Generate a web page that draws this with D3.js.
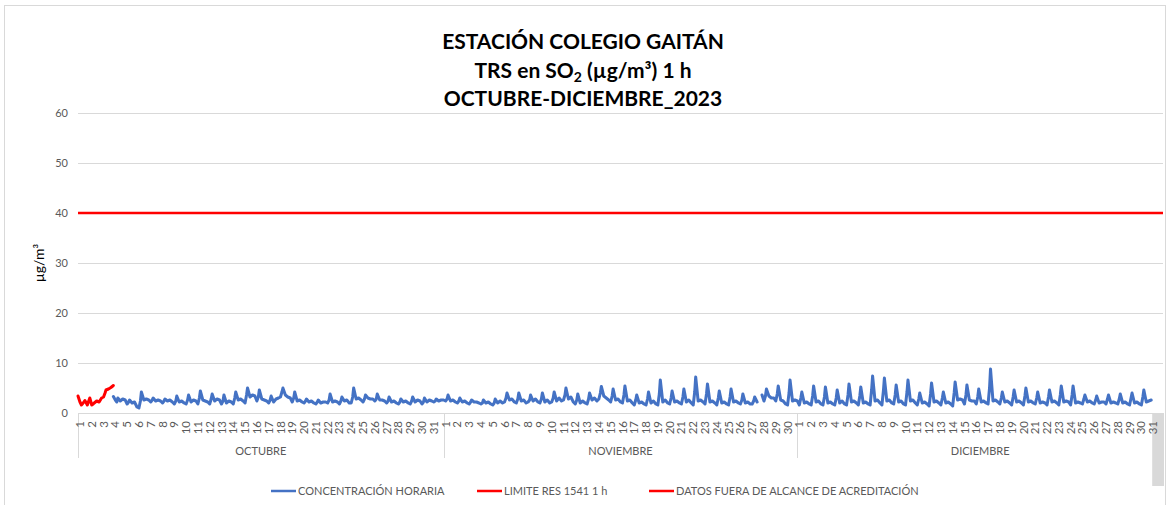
<!DOCTYPE html>
<html>
<head>
<meta charset="utf-8">
<script src="https://cdn.jsdelivr.net/npm/d3@7"></script>
<style>
  body { margin: 0; background: #fff; }
  svg text { font-family: Lato, "Open Sans", sans-serif; }
</style>
</head>
<body>
<svg></svg>
<script>
// categories: three months, one label per day, hourly values sampled 6 times a day
var MONTHS = ["OCTUBRE", "NOVIEMBRE", "DICIEMBRE"];
var MONTH_DAYS = [31, 30, 31];
var SAMPLE_HOURS = [0, 4, 7, 9, 14, 19];
var Y_TICKS = [0, 10, 20, 30, 40, 50, 60];
var LIMITE = 40;

// concentracion horaria (µg/m³), one row per day: values at SAMPLE_HOURS
var octubre = [
  null, null, null,
  [3.3, 2.6, 2.2, 3.0, 2.4, 2.8], [2.6, 1.8, 2.2, 2.6, 2.0, 2.2], [1.2, 1.0, 2.4, 4.2, 2.6, 2.8],
  [2.6, 2.2, 2.6, 3.0, 2.4, 2.6], [2.4, 2.0, 2.4, 2.8, 2.4, 2.6], [2.2, 1.8, 2.4, 3.4, 2.2, 2.4],
  [2.0, 1.8, 2.6, 3.6, 2.2, 2.6], [2.4, 1.8, 3.0, 4.4, 2.6, 2.4], [2.2, 1.8, 2.8, 3.8, 2.4, 2.8],
  [2.6, 1.8, 2.4, 3.6, 2.0, 2.4], [2.2, 1.8, 3.0, 4.2, 2.6, 2.8], [2.4, 2.0, 3.6, 5.0, 3.2, 3.6],
  [3.4, 2.4, 3.2, 4.6, 2.8, 2.6], [2.4, 2.0, 2.6, 3.4, 2.2, 2.8], [3.0, 3.2, 4.2, 5.0, 3.6, 3.2],
  [3.0, 2.2, 3.0, 4.2, 2.4, 2.6], [2.2, 2.0, 2.4, 2.8, 2.2, 2.4], [2.0, 1.8, 2.2, 2.6, 2.0, 2.2],
  [2.2, 2.0, 2.6, 3.8, 2.2, 2.4], [2.2, 1.8, 2.4, 3.2, 2.4, 2.6], [2.0, 2.0, 3.2, 5.0, 2.8, 3.0],
  [2.6, 2.2, 2.8, 3.6, 3.0, 2.8], [2.8, 2.4, 2.8, 3.8, 2.6, 2.6], [2.4, 2.0, 2.4, 3.2, 2.2, 2.4],
  [2.0, 1.8, 2.2, 2.8, 2.2, 2.4], [2.0, 1.8, 2.4, 3.2, 2.2, 2.6], [2.4, 1.8, 2.2, 3.0, 2.2, 2.6],
  [2.4, 2.2, 2.4, 2.8, 2.4, 2.6]
];
var noviembre = [
  [2.6, 2.4, 2.8, 3.6, 2.4, 2.6], [2.2, 2.0, 2.4, 3.0, 2.2, 2.4], [2.0, 1.8, 2.2, 2.6, 2.2, 2.2],
  [2.0, 1.8, 2.0, 2.6, 2.0, 2.2], [1.8, 1.6, 2.0, 2.8, 2.0, 2.4], [2.0, 2.2, 3.0, 4.0, 2.6, 2.8],
  [2.2, 2.0, 2.8, 4.0, 2.4, 2.6], [2.0, 2.2, 2.6, 3.6, 2.4, 2.8], [2.2, 2.0, 2.8, 4.0, 2.2, 2.6],
  [2.0, 2.2, 3.0, 4.2, 2.4, 3.0], [2.4, 2.6, 3.6, 5.0, 2.8, 3.2], [2.2, 1.8, 2.6, 3.8, 2.0, 2.4],
  [2.0, 1.8, 2.8, 4.0, 2.6, 3.0], [2.4, 2.8, 4.0, 5.3, 3.4, 3.0], [2.6, 2.2, 3.4, 4.8, 2.6, 2.8],
  [2.2, 2.0, 3.6, 5.4, 2.4, 2.6], [2.0, 1.6, 2.6, 3.6, 2.0, 2.2], [1.8, 1.6, 2.8, 4.2, 2.0, 2.4],
  [1.8, 1.6, 3.8, 6.6, 2.2, 2.6], [2.0, 1.8, 3.0, 4.4, 2.2, 2.4], [2.0, 1.8, 3.2, 4.8, 2.2, 2.6],
  [2.0, 1.6, 4.2, 7.2, 2.4, 2.6], [2.2, 1.8, 3.8, 5.8, 2.2, 2.4], [2.0, 1.6, 3.0, 4.4, 2.0, 2.2],
  [1.8, 1.6, 3.2, 4.8, 2.2, 2.4], [2.0, 1.8, 2.6, 3.8, 2.0, 2.2], [1.8, 1.8, 2.4, 3.2, 2.2, null],
  [3.6, 2.4, 3.4, 4.8, 3.4, 3.0], [3.0, 2.4, 3.8, 5.4, 2.6, 2.4], [1.8, 1.6, 4.0, 6.6, 2.4, 2.6]
];
var diciembre = [
  [2.4, 1.6, 3.0, 4.2, 2.0, 2.2], [1.8, 1.6, 3.4, 5.4, 2.2, 2.4], [1.8, 1.6, 3.2, 5.2, 2.0, 2.2],
  [1.8, 1.6, 3.0, 4.6, 2.0, 2.4], [1.8, 1.6, 3.6, 5.8, 2.2, 2.4], [2.0, 1.6, 3.4, 5.2, 2.0, 2.2],
  [1.8, 1.6, 4.6, 7.4, 2.4, 2.6], [2.0, 1.6, 4.4, 7.0, 2.4, 2.6], [2.0, 1.8, 3.6, 5.6, 2.2, 2.4],
  [1.8, 1.6, 4.2, 6.6, 2.4, 2.6], [2.0, 1.6, 2.8, 4.0, 2.0, 2.2], [1.8, 1.4, 3.8, 6.0, 2.2, 2.4],
  [2.0, 1.6, 3.0, 4.2, 2.0, 2.2], [1.8, 1.4, 4.0, 6.2, 2.6, 2.8], [2.6, 1.8, 3.6, 5.6, 2.6, 2.4],
  [2.4, 1.8, 3.2, 4.8, 2.2, 2.4], [2.0, 1.8, 5.0, 8.8, 2.4, 2.6], [2.2, 1.8, 3.0, 4.2, 2.2, 2.4],
  [2.0, 1.6, 3.2, 4.6, 2.2, 2.4], [2.0, 1.6, 3.4, 5.0, 2.2, 2.4], [2.0, 1.8, 3.0, 4.2, 2.0, 2.2],
  [2.0, 1.6, 3.2, 4.6, 2.2, 2.4], [2.0, 1.6, 3.6, 5.4, 2.2, 2.4], [2.2, 1.6, 3.6, 5.4, 2.0, 2.2],
  [2.0, 1.8, 2.8, 3.6, 2.2, 2.4], [2.0, 1.8, 2.6, 3.4, 2.0, 2.2], [2.2, 1.8, 2.8, 3.6, 2.0, 2.2],
  [2.0, 1.8, 2.8, 3.8, 2.0, 2.2], [1.8, 1.6, 3.0, 4.0, 2.0, 2.2], [1.8, 1.6, 3.2, 4.6, 2.2, 2.4],
  [2.6, null, null, null, null, null]
];
// datos fuera de alcance de acreditacion (first days of october)
var fueraAlcance = [
  [3.4, 2.2, 1.6, 1.8, 2.5, 1.6], [3.0, 1.6, 1.8, 2.0, 2.4, 2.2],
  [3.0, 3.2, 4.0, 4.6, 4.8, 5.1], [5.5, null, null, null, null, null]
];

var LEGEND = [
  { label: "CONCENTRACIÓN HORARIA", color: "#4472C4" },
  { label: "LIMITE RES 1541 1 h", color: "#FF0000" },
  { label: "DATOS FUERA DE ALCANCE DE ACREDITACIÓN", color: "#FF0000" }
];

// turn day rows into {h, v} points on an hour index
function toPoints(rows, dayOffset) {
  var pts = [];
  rows.forEach(function(row, d) {
    SAMPLE_HOURS.forEach(function(hr, k) {
      pts.push({ h: (dayOffset + d) * 24 + hr, v: row ? row[k] : null });
    });
  });
  return pts;
}

var monthStart = [0, MONTH_DAYS[0], MONTH_DAYS[0] + MONTH_DAYS[1]];
var totalDays = d3.sum(MONTH_DAYS);
var blueData = toPoints(octubre, 0)
  .concat(toPoints(noviembre, monthStart[1]))
  .concat(toPoints(diciembre, monthStart[2]));
var redData = toPoints(fueraAlcance, 0);

drawChart();

function drawChart() {
  var svgWidth = 1169, svgHeight = 505;
  var margin = { top: 113, right: 6, bottom: 92, left: 78 };
  var width = svgWidth - margin.left - margin.right;
  var height = svgHeight - margin.top - margin.bottom;

  var svg = d3.select("svg")
    .attr("width", svgWidth)
    .attr("height", svgHeight);

  // chart area border
  svg.append("rect")
    .attr("x", 4.5).attr("y", 5.5)
    .attr("width", svgWidth - 8).attr("height", svgHeight - 4)
    .attr("fill", "#fff")
    .attr("stroke", "#d9d9d9");

  // title
  var title = svg.append("text")
    .attr("text-anchor", "middle")
    .attr("font-weight", "bold")
    .attr("font-size", 21)
    .attr("fill", "#000");
  title.append("tspan").attr("x", 583).attr("y", 49).text("ESTACIÓN COLEGIO GAITÁN");
  var t2 = title.append("tspan").attr("x", 583).attr("y", 78);
  t2.append("tspan").text("TRS en SO");
  t2.append("tspan").attr("font-size", 14).attr("dy", 4).text("2");
  t2.append("tspan").attr("dy", -4).text(" (µg/m³) 1 h");
  title.append("tspan").attr("x", 583).attr("y", 106).text("OCTUBRE-DICIEMBRE_2023");

  var g = svg.append("g")
    .attr("transform", "translate(" + margin.left + "," + margin.top + ")");

  var x = d3.scaleLinear()
    .domain([0, totalDays * 24])
    .range([0, width]);

  var y = d3.scaleLinear()
    .domain([0, 60])
    .range([height, 0]);

  // horizontal gridlines
  g.append("g")
    .selectAll("line")
    .data(Y_TICKS)
    .join("line")
    .attr("x1", 0).attr("x2", width)
    .attr("y1", function(d) { return Math.round(y(d)) + 0.5; })
    .attr("y2", function(d) { return Math.round(y(d)) + 0.5; })
    .attr("stroke", "#d9d9d9");

  // y axis labels
  var yAxis = g.append("g")
    .call(d3.axisLeft(y).tickValues(Y_TICKS).tickSize(0).tickPadding(10));
  yAxis.select(".domain").remove();
  yAxis.selectAll("text")
    .attr("font-family", "Lato, sans-serif")
    .attr("font-size", 11)
    .attr("fill", "#595959");

  g.append("text")
    .attr("transform", "translate(-34," + (height / 2) + ") rotate(-90)")
    .attr("text-anchor", "middle")
    .attr("font-size", 14)
    .attr("fill", "#000")
    .text("µg/m³");

  // highlighted last category cell
  g.append("rect")
    .attr("x", x((totalDays - 1) * 24) + 1)
    .attr("y", height)
    .attr("width", x(totalDays * 24) - x((totalDays - 1) * 24))
    .attr("height", 73)
    .attr("fill", "#d9d9d9");

  // month separators
  var seps = monthStart.concat([totalDays]);
  g.append("g")
    .selectAll("line")
    .data(seps)
    .join("line")
    .attr("x1", function(d) { return Math.round(x(d * 24)) + 0.5; })
    .attr("x2", function(d) { return Math.round(x(d * 24)) + 0.5; })
    .attr("y1", height)
    .attr("y2", height + 45)
    .attr("stroke", "#d9d9d9");

  // day labels
  var days = [];
  MONTHS.forEach(function(m, i) {
    for (var d = 1; d <= MONTH_DAYS[i]; d++) days.push({ idx: monthStart[i] + d - 1, day: d });
  });
  g.append("g")
    .selectAll("text")
    .data(days)
    .join("text")
    .attr("transform", function(d) {
      return "translate(" + (x(d.idx * 24) + 2) + "," + (height + 8) + ") rotate(-90)";
    })
    .attr("text-anchor", "end")
    .attr("dy", "0.35em")
    .attr("font-size", 11.5)
    .attr("fill", "#595959")
    .text(function(d) { return d.day; });

  // month labels
  g.append("g")
    .selectAll("text")
    .data(MONTHS)
    .join("text")
    .attr("x", function(d, i) { return (x(monthStart[i] * 24) + x((monthStart[i] + MONTH_DAYS[i]) * 24)) / 2; })
    .attr("y", height + 42)
    .attr("text-anchor", "middle")
    .attr("font-size", 11)
    .attr("fill", "#595959")
    .text(function(d) { return d; });

  var line = d3.line()
    .defined(function(d) { return d.v != null; })
    .x(function(d) { return x(d.h); })
    .y(function(d) { return y(d.v); });

  // concentracion horaria
  g.append("path")
    .datum(blueData)
    .attr("fill", "none")
    .attr("stroke", "#4472C4")
    .attr("stroke-width", 3)
    .attr("stroke-linejoin", "round")
    .attr("stroke-linecap", "round")
    .attr("d", line);

  // limite
  g.append("line")
    .attr("x1", 0).attr("x2", width)
    .attr("y1", y(LIMITE)).attr("y2", y(LIMITE))
    .attr("stroke", "#FF0000")
    .attr("stroke-width", 2.5);

  // datos fuera de alcance
  g.append("path")
    .datum(redData)
    .attr("fill", "none")
    .attr("stroke", "#FF0000")
    .attr("stroke-width", 3)
    .attr("stroke-linejoin", "round")
    .attr("stroke-linecap", "round")
    .attr("d", line);

  // legend
  var legendX = [271, 477, 649];
  var lg = svg.append("g").selectAll("g")
    .data(LEGEND)
    .join("g")
    .attr("transform", function(d, i) { return "translate(" + legendX[i] + ",491)"; });
  lg.append("line")
    .attr("x1", 0).attr("x2", 25)
    .attr("stroke", function(d) { return d.color; })
    .attr("stroke-width", 2.5);
  lg.append("text")
    .attr("x", 27)
    .attr("dy", "0.35em")
    .attr("font-size", 11)
    .attr("fill", "#595959")
    .text(function(d) { return d.label; });
}
</script>
</body>
</html>
